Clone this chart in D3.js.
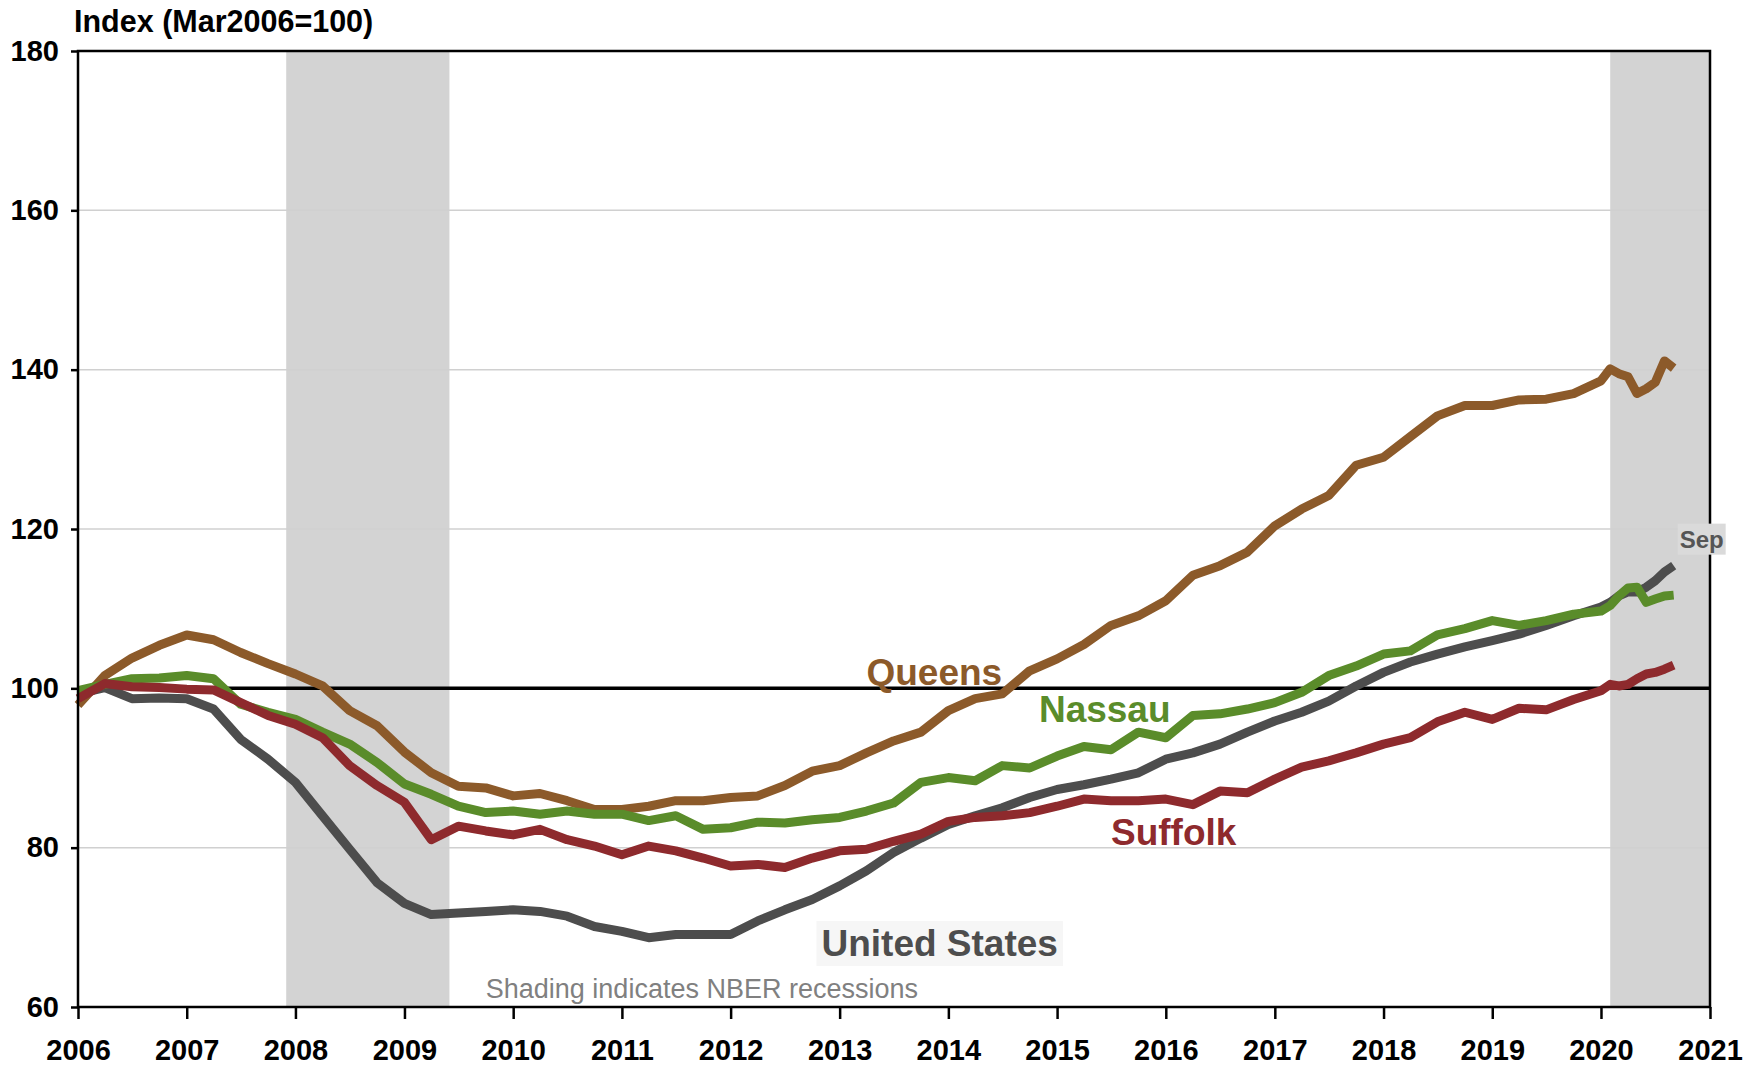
<!DOCTYPE html>
<html lang="en">
<head>
<meta charset="utf-8">
<title>House price index: Queens, Nassau, Suffolk and United States</title>
<style>
  body { margin: 0; background: #fff; }
  svg { display: block; font-family: "Liberation Sans", Arial, sans-serif; }
  .axis text { font-size: 29px; font-weight: bold; fill: #000; }
  .axis line { stroke: #000; stroke-width: 2.5px; }
  .grid line { stroke: #d0d0d0; stroke-width: 1.5px; }
  .series { fill: none; stroke-width: 9px; stroke-linejoin: round; }
  .label { font-size: 37px; font-weight: bold; }
</style>
</head>
<body>
<script src="https://cdn.jsdelivr.net/npm/d3@7"></script>
<script>
// Data (quarterly, monthly in 2020)
var dates = ["2006-01","2006-04","2006-07","2006-10","2007-01","2007-04","2007-07","2007-10",
  "2008-01","2008-04","2008-07","2008-10","2009-01","2009-04","2009-07","2009-10",
  "2010-01","2010-04","2010-07","2010-10","2011-01","2011-04","2011-07","2011-10",
  "2012-01","2012-04","2012-07","2012-10","2013-01","2013-04","2013-07","2013-10",
  "2014-01","2014-04","2014-07","2014-10","2015-01","2015-04","2015-07","2015-10",
  "2016-01","2016-04","2016-07","2016-10","2017-01","2017-04","2017-07","2017-10",
  "2018-01","2018-04","2018-07","2018-10","2019-01","2019-04","2019-07","2019-10",
  "2020-01","2020-02","2020-03","2020-04","2020-05","2020-06","2020-07","2020-08","2020-09"];

var queens = [97.9,101.6,103.8,105.4, 106.7,106.1,104.5,103.1, 101.8,100.3,97.2,95.3,
  92.0,89.4,87.7,87.5, 86.5,86.8,85.9,84.8, 84.8,85.2,85.9,85.9, 86.3,86.5,87.8,89.6,
  90.3,91.9,93.4,94.5, 97.2,98.7,99.3,102.2, 103.7,105.5,107.9,109.1, 111.0,114.2,115.4,117.1,
  120.4,122.5,124.2,128.0, 129.0,131.6,134.2,135.5, 135.5,136.2,136.3,137.0,
  138.6,140.1,139.5,139.1,137.0,137.6,138.4,141.1,140.2];

var nassau = [99.7,100.5,101.2,101.3, 101.6,101.2,98.0,97.0, 96.1,94.5,93.0,90.7,
  88.0,86.7,85.2,84.4, 84.6,84.2,84.6,84.2, 84.2,83.4,84.0,82.3, 82.5,83.2,83.1,83.5,
  83.8,84.6,85.6,88.2, 88.8,88.4,90.3,90.0, 91.5,92.7,92.3,94.5, 93.8,96.6,96.8,97.4,
  98.2,99.5,101.6,102.8, 104.3,104.7,106.7,107.5, 108.5,107.9,108.5,109.3,
  109.7,110.4,111.6,112.6,112.7,110.8,111.2,111.6,111.7];

var suffolk = [98.7,100.6,100.2,100.1, 99.9,99.8,98.2,96.6, 95.5,93.8,90.3,87.8,
  85.7,81.0,82.7,82.1, 81.6,82.3,81.0,80.2, 79.1,80.2,79.6,78.7, 77.7,77.9,77.5,78.7,
  79.6,79.8,80.8,81.7, 83.3,83.8,84.0,84.4, 85.2,86.1,85.9,85.9, 86.1,85.4,87.1,86.9,
  88.6,90.1,90.9,91.9, 93.0,93.8,95.8,97.0, 96.1,97.5,97.3,98.6,
  99.7,100.5,100.3,100.5,101.2,101.8,102.0,102.4,102.9];

var unitedStates = [99.3,100.1,98.7,98.8, 98.7,97.4,93.6,91.1, 88.2,84.0,79.8,75.6,
  73.0,71.6,71.8,72.0, 72.2,72.0,71.4,70.1, 69.5,68.7,69.1,69.1, 69.1,70.8,72.2,73.5,
  75.2,77.1,79.4,81.2, 82.9,84.0,85.0,86.3, 87.3,87.9,88.6,89.4, 91.1,91.9,93.0,94.5,
  95.9,97.0,98.4,100.3, 102.0,103.3,104.3,105.2, 106.0,106.8,107.9,109.1,
  110.2,110.8,111.6,112.1,112.1,112.7,113.5,114.6,115.4];

var recessions = [["2007-12", "2009-06"], ["2020-02", "2021-01"]];
var yTicks = [60, 80, 100, 120, 140, 160, 180];

// Layout
var w = 1754, h = 1066;
var plotLeft = 78, plotRight = 1710, plotTop = 51, plotBottom = 1007;

var parse = d3.timeParse("%Y-%m");

var svg = d3.select("body").append("svg")
  .attr("width", w)
  .attr("height", h);

var x = d3.scaleTime()
  .domain([parse("2006-01"), parse("2021-01")])
  .range([plotLeft, plotRight]);

var y = d3.scaleLinear()
  .domain([60, 180])
  .range([plotBottom, plotTop]);

// recession shading
svg.selectAll("rect.recession")
  .data(recessions)
  .enter().append("rect")
  .attr("class", "recession")
  .attr("x", function(d) { return x(parse(d[0])); })
  .attr("y", plotTop)
  .attr("width", function(d) { return x(parse(d[1])) - x(parse(d[0])); })
  .attr("height", plotBottom - plotTop)
  .attr("fill", "#d3d3d3");

// gridlines
svg.append("g")
  .attr("class", "grid")
  .selectAll("line")
  .data(yTicks.filter(function(v) { return v !== 60 && v !== 180 && v !== 100; }))
  .enter().append("line")
  .attr("x1", plotLeft).attr("x2", plotRight)
  .attr("y1", function(d) { return y(d); })
  .attr("y2", function(d) { return y(d); });

// reference line at 100
svg.append("line")
  .attr("x1", plotLeft).attr("x2", plotRight)
  .attr("y1", y(100)).attr("y2", y(100))
  .attr("stroke", "#000")
  .attr("stroke-width", 3.5);

// series
var series = [
  { name: "United States", values: unitedStates, color: "#4d4d4d" },
  { name: "Queens", values: queens, color: "#8c5a2a" },
  { name: "Nassau", values: nassau, color: "#5a8c2a" },
  { name: "Suffolk", values: suffolk, color: "#8e2a2d" }
];

var line = d3.line()
  .x(function(d) { return x(d.date); })
  .y(function(d) { return y(d.value); });

series.forEach(function(s) {
  var pts = dates.map(function(dt, i) { return { date: parse(dt), value: s.values[i] }; });
  svg.append("path")
    .datum(pts)
    .attr("class", "series")
    .attr("stroke", s.color)
    .attr("d", line);
});

// frame
svg.append("rect")
  .attr("x", plotLeft).attr("y", plotTop)
  .attr("width", plotRight - plotLeft).attr("height", plotBottom - plotTop)
  .attr("fill", "none")
  .attr("stroke", "#000")
  .attr("stroke-width", 2.5);

// axes
var yAxis = svg.append("g")
  .attr("class", "axis")
  .attr("transform", "translate(" + plotLeft + ",0)")
  .call(d3.axisLeft(y).tickValues(yTicks).tickSize(7).tickSizeOuter(0).tickPadding(12));
yAxis.select(".domain").remove();

var xAxis = svg.append("g")
  .attr("class", "axis")
  .attr("transform", "translate(0," + plotBottom + ")")
  .call(d3.axisBottom(x).ticks(d3.timeYear.every(1)).tickFormat(d3.timeFormat("%Y"))
    .tickSize(12).tickSizeOuter(0).tickPadding(20));
xAxis.select(".domain").remove();

// title
svg.append("text")
  .attr("x", 74).attr("y", 32)
  .attr("font-size", 30.5)
  .attr("font-weight", "bold")
  .text("Index (Mar2006=100)");

// series labels
function label(txt, date, value, color, bg) {
  var g = svg.append("g");
  var t = g.append("text")
    .attr("class", "label")
    .attr("x", x(parse(date)))
    .attr("y", y(value))
    .attr("fill", color)
    .text(txt);
  if (bg) {
    var b = t.node().getBBox();
    g.insert("rect", "text")
      .attr("x", b.x - 5).attr("y", b.y - 2)
      .attr("width", b.width + 10).attr("height", b.height + 4)
      .attr("fill", bg);
  }
  return t;
}

label("Queens", "2013-04", 100.4, "#8c5a2a");
label("Nassau", "2014-11", 95.8, "#5a8c2a");
label("Suffolk", "2015-07", 80.3, "#8e2a2d");
label("United States", "2012-11", 66.4, "#4d4d4d", "#f6f6f6");

// shading note
svg.append("text")
  .attr("x", x(parse("2009-10")))
  .attr("y", y(61.1))
  .attr("font-size", 27)
  .attr("fill", "#808080")
  .text("Shading indicates NBER recessions");

// last-point marker "Sep"
var last = dates.length - 1;
var sepG = svg.append("g");
var sepT = sepG.append("text")
  .attr("x", x(parse(dates[last])) + 6)
  .attr("y", y(unitedStates[last]) - 18)
  .attr("font-size", 24)
  .attr("font-weight", "bold")
  .attr("fill", "#555")
  .text("Sep");
var sb = sepT.node().getBBox();
sepG.insert("rect", "text")
  .attr("x", sb.x - 2).attr("y", sb.y - 2)
  .attr("width", sb.width + 4).attr("height", sb.height + 4)
  .attr("fill", "#dadada");
</script>
</body>
</html>
